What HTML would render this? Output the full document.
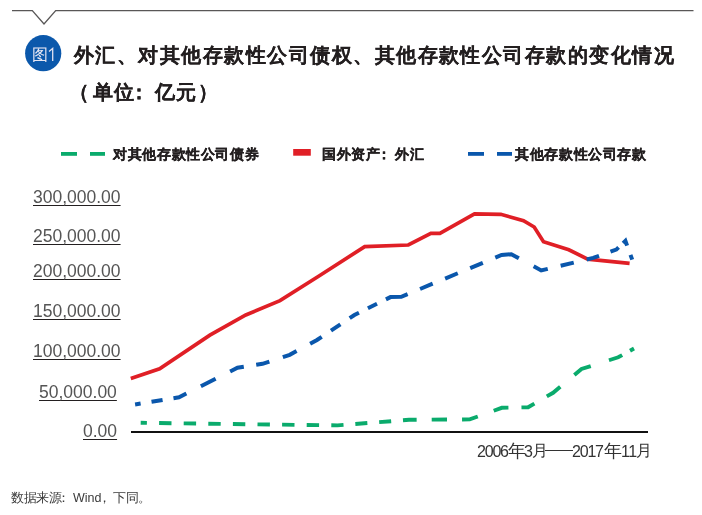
<!DOCTYPE html>
<html><head><meta charset="utf-8">
<style>
html,body{margin:0;padding:0;background:#fff;}
body{width:702px;height:515px;position:relative;overflow:hidden;font-family:"Liberation Sans",sans-serif;color:#231f20;}
.t{position:absolute;white-space:nowrap;will-change:transform;}
.title{font-weight:bold;font-size:20px;line-height:20px;letter-spacing:1.47px;-webkit-text-stroke:0.15px #231f20;}
.leg{font-weight:bold;font-size:14px;letter-spacing:0.64px;line-height:15px;color:#231f20;-webkit-text-stroke:0.3px #231f20;}
.yl{font-size:17.5px;line-height:18px;color:#555;text-decoration:underline;text-decoration-color:#231f20;text-underline-offset:2px;text-decoration-thickness:1.3px;}
.xd{letter-spacing:-1.2px;font-size:16px;line-height:16px;}
.xc{line-height:18px;}
</style></head><body>
<svg width="702" height="515" style="position:absolute;left:0;top:0">
  <polyline points="12,10.6 32.3,10.6 44,24 55.7,10.6 693.5,10.6" fill="none" stroke="#595757" stroke-width="1.35"/>
  <circle cx="43.2" cy="53.2" r="18.1" fill="#0b58ab"/>
  <!-- legend -->
  <rect x="61" y="152" width="16" height="3.8" fill="#0aab6c"/>
  <rect x="90" y="152" width="15" height="3.8" fill="#0aab6c"/>
  <rect x="293.2" y="149" width="17.6" height="6.7" fill="#e01f26"/>
  <rect x="468" y="152" width="16" height="3.8" fill="#0a57ac"/>
  <rect x="497" y="152" width="15" height="3.8" fill="#0a57ac"/>
  <!-- axis -->
  <line x1="131" y1="432" x2="648" y2="432" stroke="#111" stroke-width="2"/>
<path d="M52.7,61 L52.7,48.4 L49,51.6" fill="none" stroke="#e0e0f0" stroke-width="1.3"/>
<path fill="none" stroke="#e01f26" stroke-width="3.7" stroke-linejoin="miter" d="M130.8,378.4 L159.6,368.7 L209.9,335.2 L245.8,315.0 L280.0,300.6 L318.6,276.3 L364.7,246.6 L408.3,245.0 L430.9,233.3 L439.9,233.3 L474.5,213.8 L500.8,214.3 L523.5,220.7 L534.2,227.0 L543.5,241.8 L568.8,249.8 L587.7,259.1 L629.6,263.3"/>
<path fill="none" stroke="#0a57ac" stroke-width="4" stroke-linejoin="miter" d="M135.10,404.50 L140.63,403.59 M151.52,401.81 L162.58,399.99 M173.47,398.21 L179.00,397.30 L186.37,393.58 M200.88,386.27 L215.62,378.83 M230.13,371.52 L237.50,367.80 L243.80,366.79 M256.20,364.81 L262.50,363.80 L269.36,361.53 M282.84,357.07 L289.70,354.80 L296.58,351.07 M310.12,343.73 L317.00,340.00 L321.71,336.85 M330.99,330.65 L340.41,324.35 M349.69,318.15 L354.40,315.00 L358.95,312.74 M367.90,308.31 L377.00,303.79 M385.95,299.36 L390.50,297.10 L401.30,296.80 L407.62,294.17 M420.06,288.98 L432.69,283.72 M445.13,278.53 L457.77,273.27 M470.21,268.08 L482.84,262.82 M495.28,257.63 L501.60,255.00 L511.30,254.20 L518.84,258.28 M533.66,266.32 L541.20,270.40 L547.75,268.82 M560.65,265.73 L573.75,262.57 M586.65,259.48 L593.20,257.90 L599.02,255.81 M610.48,251.69 L616.30,249.60 L618.59,247.41 M623.11,243.09 L625.40,240.90 L627.11,245.61 M630.49,254.89 L632.20,259.60"/>
<path fill="none" stroke="#0aab6c" stroke-width="3.9" stroke-linejoin="miter" d="M140.70,422.80 L146.90,422.88 M159.10,423.04 L171.50,423.21 M183.70,423.37 L196.10,423.53 M208.30,423.69 L220.70,423.86 M232.90,424.02 L245.30,424.18 M257.50,424.34 L269.90,424.51 M282.10,424.67 L294.50,424.83 M306.70,424.99 L319.10,425.16 M331.30,425.32 L337.50,425.40 L343.51,424.93 M355.33,424.00 L367.34,423.06 M379.16,422.14 L391.17,421.20 M402.99,420.27 L409.00,419.80 L416.65,419.75 M431.70,419.65 L447.00,419.55 M462.05,419.45 L469.70,419.40 L477.79,416.48 M493.71,410.72 L501.80,407.80 L508.43,407.65 M521.47,407.35 L528.10,407.20 L534.40,403.57 M546.80,396.43 L553.10,392.80 L560.26,386.80 M574.34,375.00 L581.50,369.00 L590.75,366.05 M608.95,360.25 L618.20,357.30 L622.18,355.08 M630.02,350.72 L634.00,348.50"/>

</svg>
<div class="t title" style="left:74px;top:45px;">外汇、对其他存款性公司债权、其他存款性公司存款的变化情况</div>
<div class="t title" style="left:72px;top:82px;"><span style="position:absolute;left:-3.5px">（</span><span style="position:absolute;left:21px">单</span><span style="position:absolute;left:42px">位</span><span style="position:absolute;left:56.5px">：</span><span style="position:absolute;left:83px">亿</span><span style="position:absolute;left:104px">元</span><span style="position:absolute;left:125.5px">）</span></div>
<div class="t leg" style="left:113px;top:146.5px;">对其他存款性公司债券</div>
<div class="t leg" style="left:322px;top:146.5px;">国外资产<span style="position:relative;left:-4px">：</span>外汇</div>
<div class="t leg" style="left:515px;top:146.5px;">其他存款性公司存款</div>
<div class="t yl" style="left:33px;top:188px;">300,000.00</div>
<div class="t yl" style="left:33px;top:227px;">250,000.00</div>
<div class="t yl" style="left:33px;top:262px;">200,000.00</div>
<div class="t yl" style="left:33px;top:302px;">150,000.00</div>
<div class="t yl" style="left:33px;top:342px;">100,000.00</div>
<div class="t yl" style="left:39px;top:383px;">50,000.00</div>
<div class="t yl" style="left:83px;top:422px;">0.00</div>
<div class="t" style="left:0;top:0;color:#333;">
<span class="t xd" style="left:477.4px;top:443.5px">2006</span><span class="t xc" style="left:507.6px;top:442px;font-size:18px">年</span><span class="t xd" style="left:524.1px;top:443.5px">3</span><span class="t xc" style="left:532.1px;top:442px;font-size:16px">月</span><span class="t xc" style="left:545px;top:439.7px;font-size:14px">——</span><span class="t xd" style="left:572.4px;top:443.5px">2017</span><span class="t xc" style="left:603.8px;top:442px;font-size:18px">年</span><span class="t xd" style="left:621.4px;top:443.5px;letter-spacing:-0.5px">11</span><span class="t xc" style="left:636.2px;top:442px;font-size:16px">月</span></div>
<div class="t" style="left:0;top:490.5px;font-size:13px;line-height:14px;color:#3a3a3a;">
<span class="t" style="left:11px;letter-spacing:-0.5px">数据来源</span><span class="t" style="left:56.7px">：</span><span class="t" style="left:72.5px;font-size:12.5px">Wind</span><span class="t" style="left:97.5px">，</span><span class="t" style="left:112.8px;letter-spacing:-0.5px">下同</span><span class="t" style="left:138.4px">。</span></div>
<div class="t" style="left:32px;top:47px;font-size:15.5px;line-height:15px;color:#e6e6f2;">图</div>
</body></html>
